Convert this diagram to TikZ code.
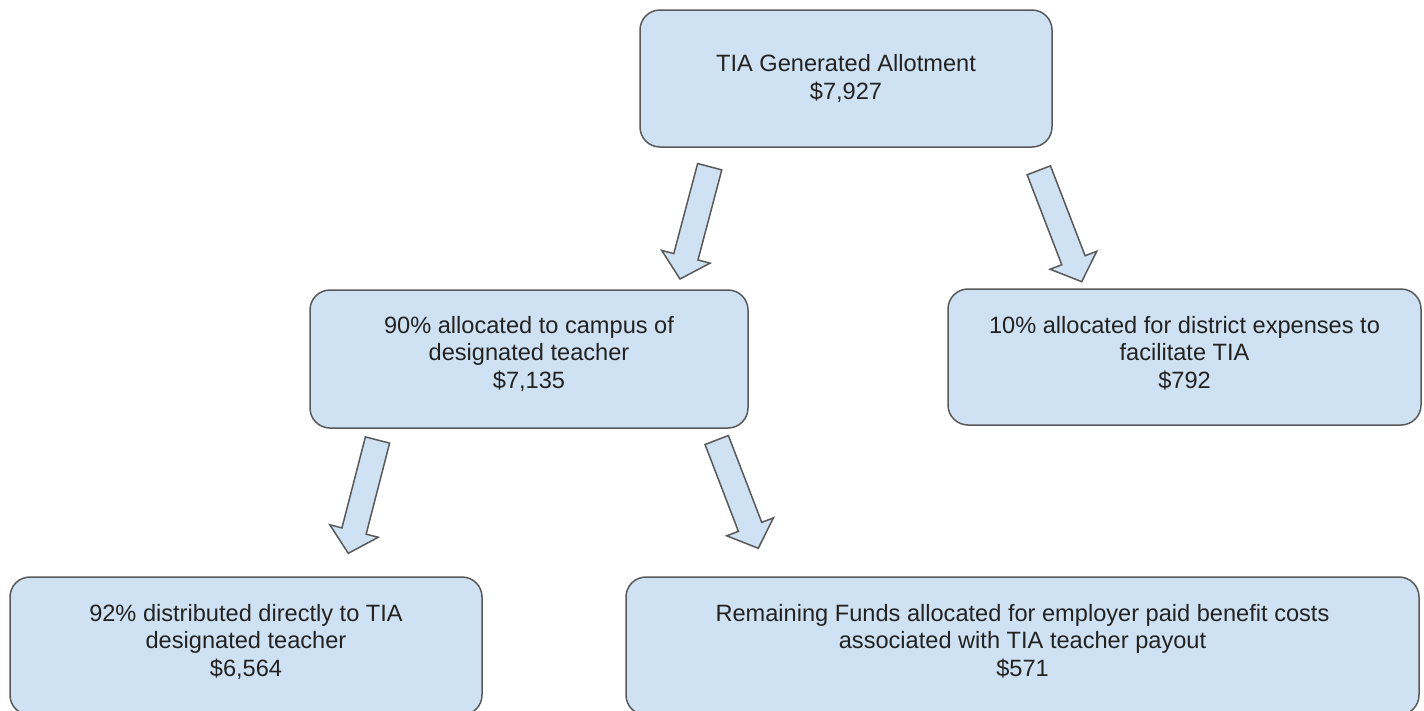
\documentclass[tikz,border=0pt]{standalone}
\usepackage{fontspec}
\setmainfont{Liberation Sans}
\usetikzlibrary{calc}
\definecolor{boxfill}{HTML}{CFE2F3}
\definecolor{boxline}{HTML}{595959}
\definecolor{txt}{HTML}{222222}
\tikzset{
  box/.style={draw=boxline, fill=boxfill, line width=1.5pt, rounded corners=20pt,
    align=center, text=txt, font=\fontsize{23.6}{27.5}\selectfont, inner sep=0pt},
  barr/.style={draw=boxline, fill=boxfill, line width=1.5pt, line join=miter}
}
\newcommand{\blockarrow}[3]{%
  \coordinate (#1t) at #2;
  \coordinate (#1p) at #3;
  \coordinate (#1h) at ($(#1p)!23pt!(#1t)$);
  \draw[barr] ($(#1t)!12.5pt!90:(#1p)$) -- ($(#1h)!12.5pt!-90:(#1t)$)
    -- ($(#1h)!25pt!-90:(#1t)$) -- (#1p) -- ($(#1h)!25pt!90:(#1t)$)
    -- ($(#1h)!12.5pt!90:(#1t)$) -- ($(#1t)!12.5pt!-90:(#1p)$) -- cycle;
}
\begin{document}
\begin{tikzpicture}[x=1pt,y=-1pt]
\useasboundingbox (0,0) rectangle (1424,710);
\clip (0,0) rectangle (1424,710);
\fill[white] (0,0) rectangle (1424,710);
\node[box, minimum width=412pt, minimum height=137pt] (top) at (846,78.5)
  {TIA Generated Allotment\\\$7,927};
\node[box, minimum width=438pt, minimum height=138pt] (midL) at (529,359)
  {90\% allocated to campus of\\designated teacher\\\$7,135\\[-14pt]};
\node[box, minimum width=473pt, minimum height=136pt] (midR) at (1184.5,357)
  {10\% allocated for district expenses to\\facilitate TIA\\\$792\\[-18pt]};
\node[box, minimum width=472pt, minimum height=138pt] (botL) at (246,646)
  {92\% distributed directly to TIA\\designated teacher\\\$6,564\\[-16pt]};
\node[box, minimum width=793pt, minimum height=138pt] (botR) at (1022.5,646)
  {Remaining Funds allocated for employer paid benefit costs\\associated with TIA teacher payout\\\$571\\[-16pt]};
\blockarrow{a1}{(709.7,166.7)}{(680,279)}
\blockarrow{a2}{(1038.8,170.3)}{(1081.7,281.7)}
\blockarrow{a3}{(377.5,440)}{(348.3,553.3)}
\blockarrow{a4}{(716.7,440)}{(758.3,548.3)}
\end{tikzpicture}
\end{document}
